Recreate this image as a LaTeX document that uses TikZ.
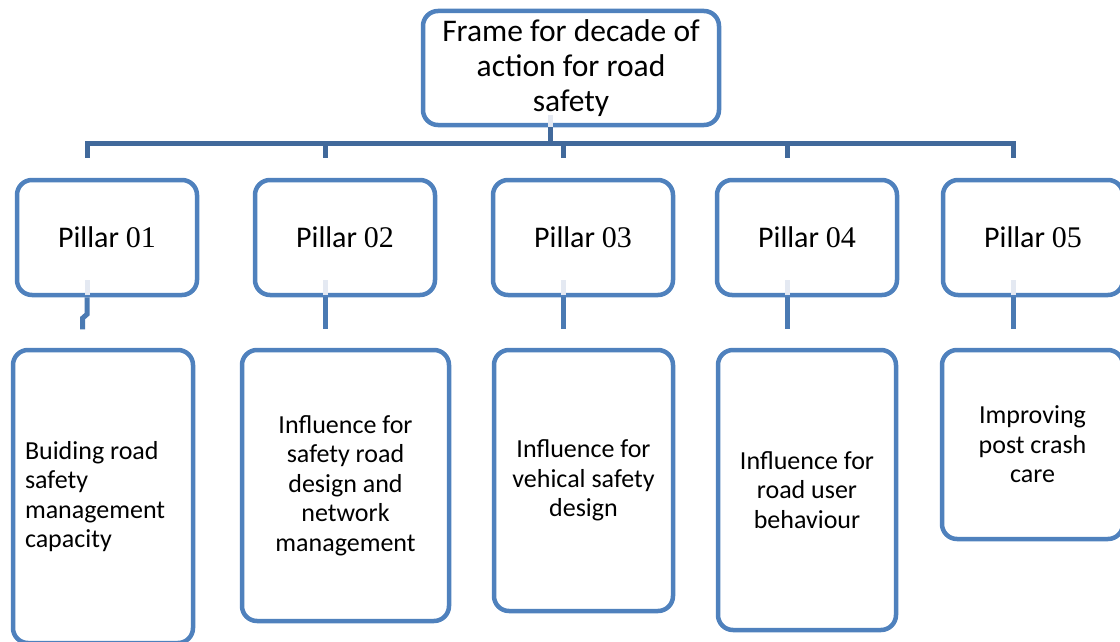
\documentclass[tikz,border=0pt]{standalone}
\usepackage{fontspec}
\setmainfont{Carlito}
\newfontfamily\numfont{Liberation Serif}
\definecolor{boxblue}{HTML}{4F81BD}
\definecolor{busblue}{HTML}{41699B}
\definecolor{dropblue}{HTML}{4A7AB3}
\definecolor{faintblue}{HTML}{E4E9F2}
\tikzset{
  rbox/.style={draw=boxblue, line width=4.5pt, rounded corners=15pt, fill=white,
    inner sep=0pt, align=center},
  topfont/.style={font=\fontsize{31.5}{35}\selectfont},
  pilfont/.style={font=\fontsize{30}{36}\selectfont},
  subfont/.style={font=\fontsize{26}{29.5}\selectfont},
  bus/.style={draw=busblue, line width=5pt, line join=miter},
  drop/.style={draw=dropblue, line width=5pt},
  faint/.style={draw=faintblue, line width=5pt},
}
\newcommand{\pil}[1]{Pillar {\numfont #1}}
\begin{document}
\begin{tikzpicture}[x=1pt,y=-1pt]
\useasboundingbox (0,0) rectangle (1120,642);
\clip (0,0) rectangle (1120,642);

% top frame box
\node[rbox, topfont, minimum width=296pt, minimum height=114pt] (top) at (571,68)
  {Frame for decade of\\action for road\\safety};

% pillar boxes
\foreach \n/\x in {1/107, 2/345, 3/583, 4/807, 5/1033}{
  \node[rbox, pilfont, minimum width=180pt, minimum height=115pt] (p\n) at (\x,237.5)
    {\pil{0\n}};
}

% detail boxes
\node[rbox, subfont, align=flush left, text width=156pt, minimum width=180pt, minimum height=293pt]
  (d1) at (103,496.5) {Buiding road\\safety\\management\\capacity};
\node[rbox, subfont, minimum width=207pt, minimum height=271pt] (d2) at (345.5,485.5)
  {Influence for\\safety road\\design and\\network\\management};
\node[rbox, subfont, minimum width=179pt, minimum height=261pt] (d3) at (583.5,480.5)
  {Influence for\\vehical safety\\design};
\node[rbox, subfont, minimum width=178pt, minimum height=280pt] (d4) at (807,490)
  {Influence for\\road user\\behaviour};
\node[rbox, subfont, minimum width=181pt, minimum height=189pt] (d5) at (1032.5,444.5)
  {Improving\\post crash\\care};

% bus from the frame box to the pillars
\coordinate (busL) at ([xshift=-20pt]p1.north |- 0,143);
\coordinate (busR) at ([xshift=-20pt]p5.north |- 0,143);
\draw[faint] ([xshift=-21pt]top.south) -- ++(0,-12);
\draw[bus] ([xshift=-21pt]top.south) -- ([xshift=-21pt]top.south |- busL);
\draw[bus] ([xshift=-20pt,yshift=20pt]p1.north) -- (busL) -- (busR)
  -- ([xshift=-20pt,yshift=20pt]p5.north);
\foreach \n in {2,3,4}{
  \draw[bus] ([xshift=-20pt]p\n.north |- busL) -- ([xshift=-20pt,yshift=20pt]p\n.north);
}

% stubs below the pillars
\foreach \n in {1,...,5}{
  \draw[faint] ([xshift=-20pt,yshift=2pt]p\n.south) -- ++(0,-15);
}
\draw[drop] ([xshift=-20pt]p1.south) -- ++(0,17) -- ++(-4.5,4) -- ++(0,11);
\foreach \n in {2,...,5}{
  \draw[drop] ([xshift=-20pt]p\n.south) -- ++(0,32);
}
\end{tikzpicture}
\end{document}
